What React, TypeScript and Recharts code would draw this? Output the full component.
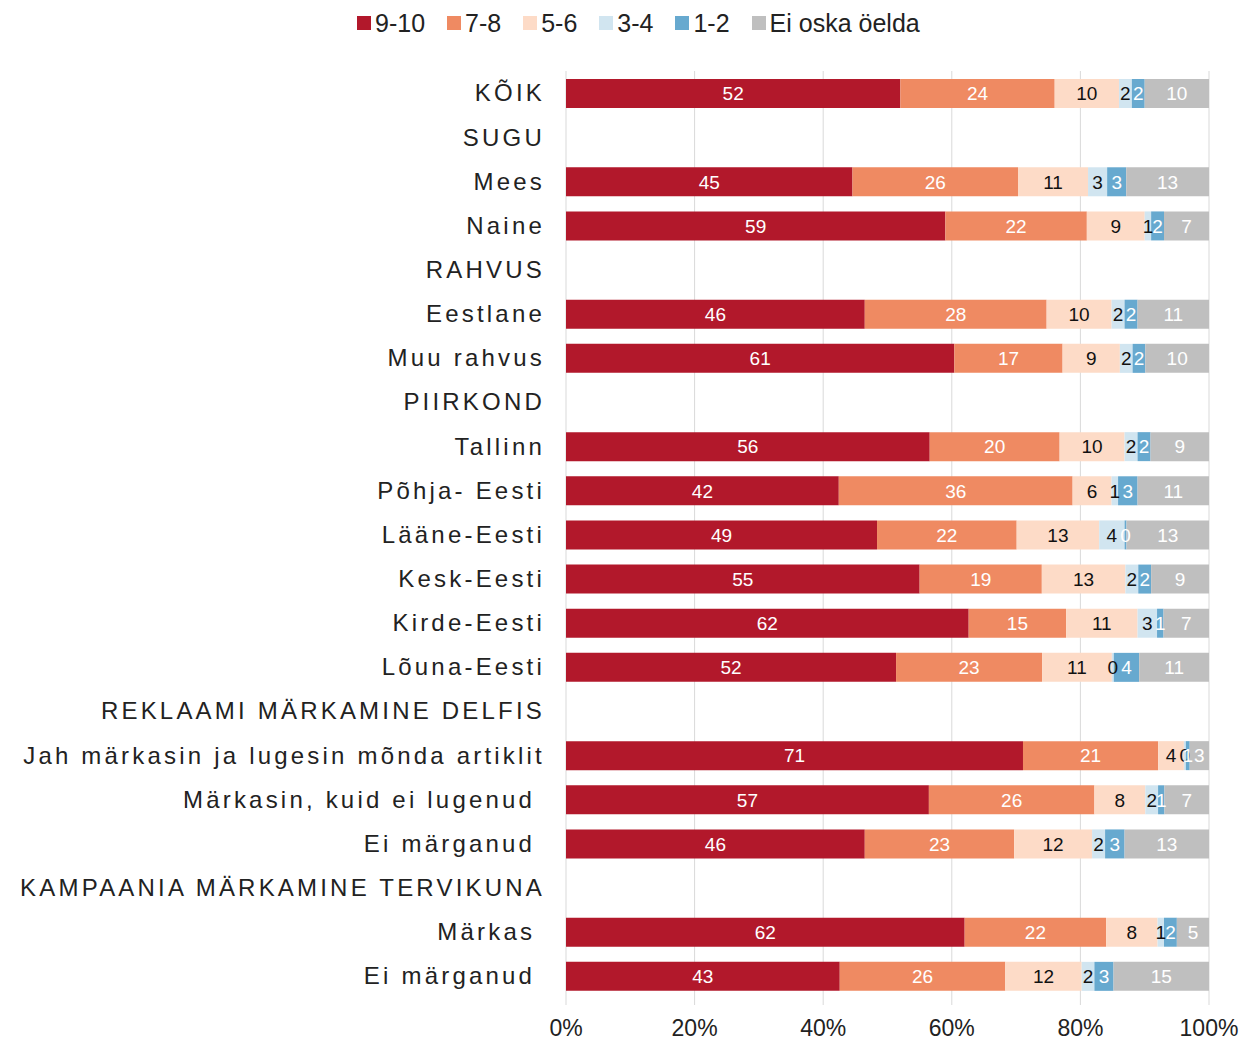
import React from 'react';
import { BarChart, Bar, XAxis, YAxis, CartesianGrid, LabelList } from 'recharts';

// row labels (headers have no values)
const categories = [
    'KÕIK', 'SUGU', 'Mees', 'Naine', 'RAHVUS', 'Eestlane', 'Muu rahvus', 'PIIRKOND',
    'Tallinn', 'Põhja- Eesti', 'Lääne-Eesti', 'Kesk-Eesti', 'Kirde-Eesti', 'Lõuna-Eesti',
    'REKLAAMI MÄRKAMINE DELFIS', 'Jah märkasin ja lugesin mõnda artiklit', 'Märkasin, kuid ei lugenud ',
    'Ei märganud ', 'KAMPAANIA MÄRKAMINE TERVIKUNA', 'Märkas ', 'Ei märganud ',
];

// shares in %, labels are shown rounded (tiny segments shown as "0")
const v910 = [52, null, 45, 59, null, 46, 61, null, 56, 42, 49, 55, 62, 52, null, 71, 57, 46, null, 62, 43];
const v78 = [24, null, 26, 22, null, 28, 17, null, 20, 36, 22, 19, 15, 23, null, 21, 26, 23, null, 22, 26];
const v56 = [10, null, 11, 9, null, 10, 9, null, 10, 6, 13, 13, 11, 11, null, 4, 8, 12, null, 8, 12];
const v34 = [2, null, 3, 1, null, 2, 2, null, 2, 1, 4, 2, 3, 0.3, null, 0.3, 2, 2, null, 1, 2];
const v12 = [2, null, 3, 2, null, 2, 2, null, 2, 3, 0.3, 2, 1, 4, null, 0.6, 1, 3, null, 2, 3];
const vEi = [10, null, 13, 7, null, 11, 10, null, 9, 11, 13, 9, 7, 11, null, 3, 7, 13, null, 5, 15];

const xTicks = [0, 0.2, 0.4, 0.6, 0.8, 1];

const series = [
    { key: 'a', name: '9-10', values: v910, color: '#b2182b', text: '#ffffff' },
    { key: 'b', name: '7-8', values: v78, color: '#ef8a62', text: '#ffffff' },
    { key: 'c', name: '5-6', values: v56, color: '#fddbc7', text: '#111111' },
    { key: 'd', name: '3-4', values: v34, color: '#d1e5f0', text: '#111111' },
    { key: 'e', name: '1-2', values: v12, color: '#67a9cf', text: '#ffffff' },
    { key: 'f', name: 'Ei oska öelda', values: vEi, color: '#bfbfbf', text: '#ffffff' },
];

const data = categories.map((c, i) => {
    const row: any = { id: String(i), label: c };
    series.forEach(s => { row[s.key] = s.values[i]; });
    return row;
});

const FONT = 'Arial, "Liberation Sans", sans-serif';

const CategoryTick = (props: any) => {
    const { y, payload } = props;
    const label = categories[Number(payload.value)];
    return (
        <text x={545} y={y} dy="0.35em" textAnchor="end" fill="#222" fontSize={24}
            fontFamily={FONT} letterSpacing={3.2} style={{ whiteSpace: 'pre' }}>
            {label}
        </text>
    );
};

const ChartLegend = () => (
    <div style={{ position: 'absolute', left: 357, top: 8, display: 'flex', gap: 22, fontFamily: FONT, fontSize: 25, lineHeight: '30px', color: '#222' }}>
        {series.map(s => (
            <div key={s.key} style={{ display: 'flex', alignItems: 'center' }}>
                <span style={{ width: 14, height: 14, background: s.color, display: 'inline-block', marginRight: 4 }} />
                <span>{s.name}</span>
            </div>
        ))}
    </div>
);

const App: React.FC = () => {
    return (
        <div style={{ position: 'absolute', left: 0, top: 0, width: 1259, height: 1041, background: '#fff' }}>
            <BarChart
                width={1259}
                height={1041}
                data={data}
                layout="vertical"
                stackOffset="expand"
                barSize={29}
                margin={{ top: 71, right: 50, bottom: 0, left: 0 }}
            >
                <CartesianGrid horizontal={false} stroke="#d9d9d9" />
                <XAxis
                    type="number"
                    domain={[0, 1]}
                    ticks={xTicks}
                    tickFormatter={(v) => `${Math.round(v * 100)}%`}
                    height={43}
                    axisLine={false}
                    tickLine={{ stroke: '#d9d9d9' }}
                    tickSize={7}
                    tickMargin={15}
                    tick={{ fill: '#222', fontSize: 23, fontFamily: FONT }}
                />
                <YAxis
                    type="category"
                    dataKey="id"
                    width={566}
                    axisLine={false}
                    tickLine={false}
                    interval={0}
                    tick={<CategoryTick />}
                />
                {series.map(s => (
                    <Bar key={s.key} dataKey={s.key} name={s.name} stackId="1" fill={s.color} isAnimationActive={false}>
                        <LabelList
                            dataKey={s.key}
                            position="center"
                            fill={s.text}
                            fontSize={19}
                            fontFamily={FONT}
                            formatter={(v: any) => (v == null ? '' : Math.round(Number(v)))}
                        />
                    </Bar>
                ))}
            </BarChart>
            <ChartLegend />
        </div>
    );
};

export default App;
